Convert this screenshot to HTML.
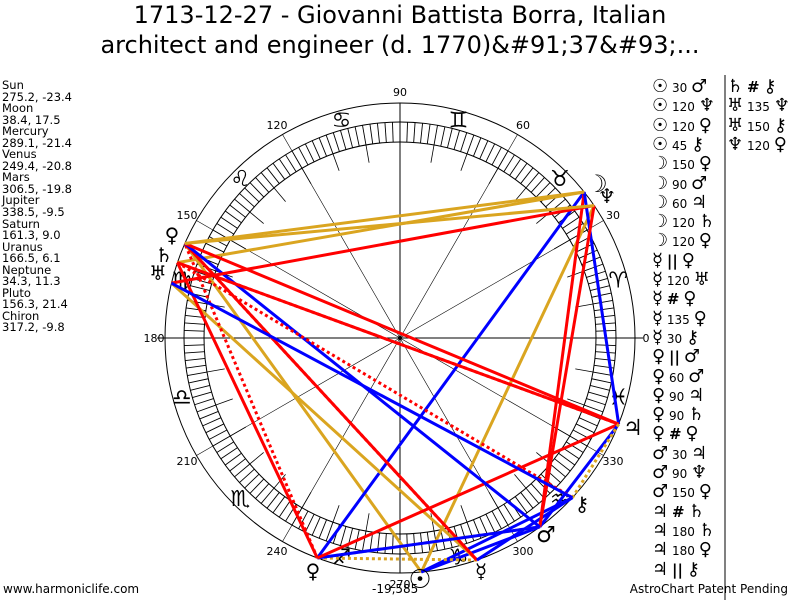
<!DOCTYPE html>
<html><head><meta charset="utf-8"><style>
body{margin:0;background:#fff;}
#w{position:relative;width:800px;height:600px;overflow:hidden;font-family:"DejaVu Sans","Liberation Sans",sans-serif;}
.t{position:absolute;left:0;width:800px;text-align:center;font-size:24px;color:#000;}
#left{position:absolute;left:2px;top:80px;font-size:11.5px;line-height:11.55px;}
.r{position:absolute;font-size:12px;white-space:pre;}
.r b{font-weight:normal;font-size:18px;}
.r i{font-style:normal;font-weight:bold;font-size:15px;}
</style></head><body><div id="w">
<div class="t" style="top:1px">1713-12-27 - Giovanni Battista Borra, Italian</div>
<div class="t" style="top:31px">architect and engineer (d. 1770)&amp;#91;37&amp;#93;...</div>
<div id="left">Sun<br>275.2, -23.4<br>Moon<br>38.4, 17.5<br>Mercury<br>289.1, -21.4<br>Venus<br>249.4, -20.8<br>Mars<br>306.5, -19.8<br>Jupiter<br>338.5, -9.5<br>Saturn<br>161.3, 9.0<br>Uranus<br>166.5, 6.1<br>Neptune<br>34.3, 11.3<br>Pluto<br>156.3, 21.4<br>Chiron<br>317.2, -9.8</div>
<svg id="s" width="800" height="600" style="position:absolute;left:0;top:0"></svg>
<div id="rl"></div>
<div style="position:absolute;left:3px;top:582px;font-size:12px">www.harmoniclife.com</div>
<div style="position:absolute;left:372px;top:582px;font-size:12px">-19,585</div>
<div style="position:absolute;right:12px;top:582px;font-size:12px">AstroChart Patent Pending</div>
</div>
<script>
var s=document.getElementById('s'),cx=400,cy=338,R=235,NS='http://www.w3.org/2000/svg';
function el(t,a,txt){var e=document.createElementNS(NS,t);for(var k in a)e.setAttribute(k,a[k]);if(txt)e.textContent=txt;s.appendChild(e);return e;}
function P(d,r){var a=d*Math.PI/180;return [cx+r*Math.cos(a),cy-r*Math.sin(a)];}
el('circle',{cx:cx,cy:cy,r:R,fill:'none',stroke:'#000','stroke-width':1});
el('circle',{cx:cx,cy:cy,r:216,fill:'none',stroke:'#000','stroke-width':1});
el('circle',{cx:cx,cy:cy,r:196,fill:'none',stroke:'#000','stroke-width':1});
for(var d=0;d<360;d+=2){var a=P(d,196),b=P(d,216);el('line',{x1:a[0],y1:a[1],x2:b[0],y2:b[1],stroke:'#000','stroke-width':0.9});}
for(var d=0;d<360;d+=10){var a=P(d,178),b=P(d,196);el('line',{x1:a[0],y1:a[1],x2:b[0],y2:b[1],stroke:'#000','stroke-width':0.8});}
for(var d=0;d<360;d+=30){var b=P(d,R);el('line',{x1:cx,y1:cy,x2:b[0],y2:b[1],stroke:'#000','stroke-width':0.6});var l=P(d,246);el('text',{x:l[0],y:l[1]+4,'font-size':11,'text-anchor':'middle','font-family':'DejaVu Sans,sans-serif'},''+d);}
el('line',{x1:cx-R-8,y1:cy,x2:cx+R+8,y2:cy,stroke:'#000','stroke-width':1});
el('line',{x1:cx,y1:cy-R,x2:cx,y2:cy+R,stroke:'#000','stroke-width':1});
el('circle',{cx:cx,cy:cy,r:2,fill:'#000'});
var zs='♈♉♊♋♌♍♎♏♐♑♒♓';
for(var i=0;i<12;i++){var p=P(15+30*i,226);el('text',{x:p[0],y:p[1]+8,'font-size':22,'text-anchor':'middle','font-family':'DejaVu Sans,sans-serif'},zs[i]);}
var L={Su:275.2,Mo:38.4,Me:289.1,Ve:249.4,Ma:306.5,Ju:338.5,Sa:161.3,Ur:166.5,Ne:34.3,Pl:156.3,Ch:317.2};
var red='#ff0000',blue='#0000ff',gold='#daa520';
var C={'30':blue,'45':blue,'60':blue,'150':blue,'120':gold,'90':red,'180':red,'135':red,'P':gold,'C':red};
var A=[['Su','30','Ma'],['Su','120','Ne'],['Su','120','Pl'],['Su','45','Ch'],['Mo','150','Ve'],['Mo','90','Ma'],['Mo','60','Ju'],['Mo','120','Sa'],['Mo','120','Pl'],['Me','P','Ve'],['Me','120','Ur'],['Me','C','Pl'],['Me','135','Pl'],['Me','30','Ch'],['Ve','P','Ma'],['Ve','60','Ma'],['Ve','90','Ju'],['Ve','90','Sa'],['Ve','C','Pl'],['Ma','30','Ju'],['Ma','90','Ne'],['Ma','150','Pl'],['Ju','C','Sa'],['Ju','180','Sa'],['Ju','180','Pl'],['Ju','P','Ch'],['Sa','C','Ch'],['Ur','135','Ne'],['Ur','150','Ch'],['Ne','120','Pl']];
A.forEach(function(x){var a=P(L[x[0]],R),b=P(L[x[2]],R);var o={x1:a[0],y1:a[1],x2:b[0],y2:b[1],stroke:C[x[1]],'stroke-width':3};if(x[1]=='P'||x[1]=='C'){o['stroke-dasharray']='3,3';}el('line',o);});
var G=[['☉',420,588,26],['☽',597,192,24],['♆',607,203,20],['☿',481,578,20],['♀',313,578,20],['♂',546,542,22],['♃',633,435,22],['♄',164,262,20],['♅',158,280,20],['♀',172,242,20],['⚷',582,511,20]];
G.forEach(function(g){el('text',{x:g[1],y:g[2],'font-size':g[3],'text-anchor':'middle','font-family':'DejaVu Sans,sans-serif'},g[0]);});
el('line',{x1:725,y1:75,x2:725,y2:600,stroke:'#000','stroke-width':1});
var sym={Su:'☉',Mo:'☽',Me:'☿',Ve:'♀',Ma:'♂',Ju:'♃',Sa:'♄',Ur:'♅',Ne:'♆',Pl:'♀',Ch:'⚷'};
var h='';
A.forEach(function(x,i){var col=i<26?0:1,row=i<26?i:i-26;var lx=col?727:652,ty=76+row*19.3;var m=x[1]=='P'?'<i>||</i>':x[1]=='C'?'<i>#</i>':x[1];
h+='<div class="r" style="left:'+lx+'px;top:'+ty+'px"><b>'+sym[x[0]]+'</b> '+m+' <b>'+sym[x[2]]+'</b></div>';});
document.getElementById('rl').innerHTML=h;
</script>
</body></html>
